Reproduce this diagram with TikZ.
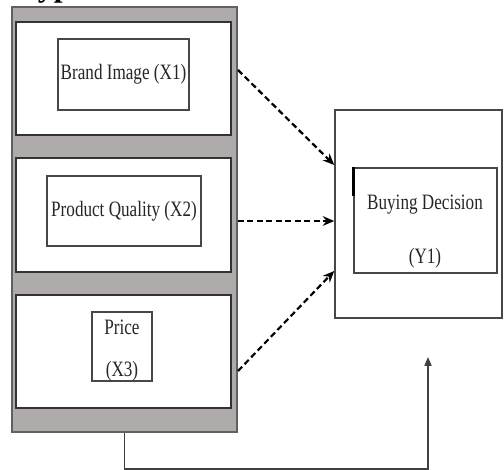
\documentclass[tikz,border=0pt]{standalone}
\usepackage{fontspec}
\setmainfont{Liberation Serif}
\newfontfamily\narrowserif[FakeStretch=0.78]{Liberation Serif}
\usetikzlibrary{arrows.meta, fit, positioning}

\definecolor{panelgray}{RGB}{176,171,171}

\tikzset{
  panel/.style={draw=black!62, line width=1.4pt, fill=panelgray, inner sep=0pt},
  factor/.style={draw=black!80, line width=0.9pt, fill=white, inner sep=0pt},
  namebox/.style={draw=black!72, line width=0.8pt, inner sep=0pt},
  lbl/.style={font=\narrowserif\fontsize{12.5}{13}\selectfont, text=black!85, inner sep=0pt},
  effect/.style={-{Stealth[length=6.5pt,width=5.5pt]}, line width=1.25pt, dash pattern=on 3.4pt off 2pt},
  feedback/.style={-{Triangle[length=5pt,width=4pt]}, draw=black!75, line width=0.85pt},
}

\begin{document}
\begin{tikzpicture}[x=0.02cm, y=-0.02cm]
  \useasboundingbox (0,0) rectangle (504,470);

  % heading, cut at the top edge
  \begin{scope}
    \clip (0,0) rectangle (504,470);
    \node[font=\bfseries\fontsize{18}{18}\selectfont, anchor=base west, inner sep=0pt] (title) at (13,-4) {Hypothesis};
  \end{scope}

  % independent variables
  \node[panel, fit={(12,7) (237,432)}] (panel) {};
  \node[factor, fit={(16,22) (231,135)}] (x1) {};
  \node[factor, fit={(16,158) (231,272)}] (x2) {};
  \node[factor, fit={(16,295) (231,408)}] (x3) {};

  \node[namebox, fit={(58,39) (189,110)}] (x1name) {};
  \node[namebox, fit={(47,176) (201,246)}] (x2name) {};
  \node[namebox, fit={(92,312) (152,381)}] (x3name) {};

  \node[lbl] at (x1name.center) {Brand Image (X1)};
  \node[lbl] at (x2name.center) {Product Quality (X2)};
  \node[lbl] (price) at (122,327) {Price};
  \node[lbl] at (122,371) {(X3)};

  % dependent variable
  \node[namebox, line width=0.9pt, fit={(335,110) (502,318)}] (decision) {};
  \node[namebox, fit={(354,168) (497,273)}] (y1name) {};
  \draw[line width=1.5pt] (y1name.north west) -- ++(0,29);
  \node[lbl] (buying) at (425,205) {Buying Decision};
  \node[lbl] at (425,258) {(Y1)};

  % effects
  \coordinate (out1) at (238,70);
  \coordinate (out2) at (238,221);
  \coordinate (out3) at (238,371);
  \draw[effect] (out1) -- (decision.west |- 0,165);
  \draw[effect] (out2) -- (out2 -| decision.west);
  \draw[effect] (out3) -- (decision.west |- 0,271);

  % simultaneous effect
  \coordinate (fbtip) at (428,357);
  \draw[feedback] (panel.south) -- ++(0,36) -| (fbtip);

\end{tikzpicture}
\end{document}
